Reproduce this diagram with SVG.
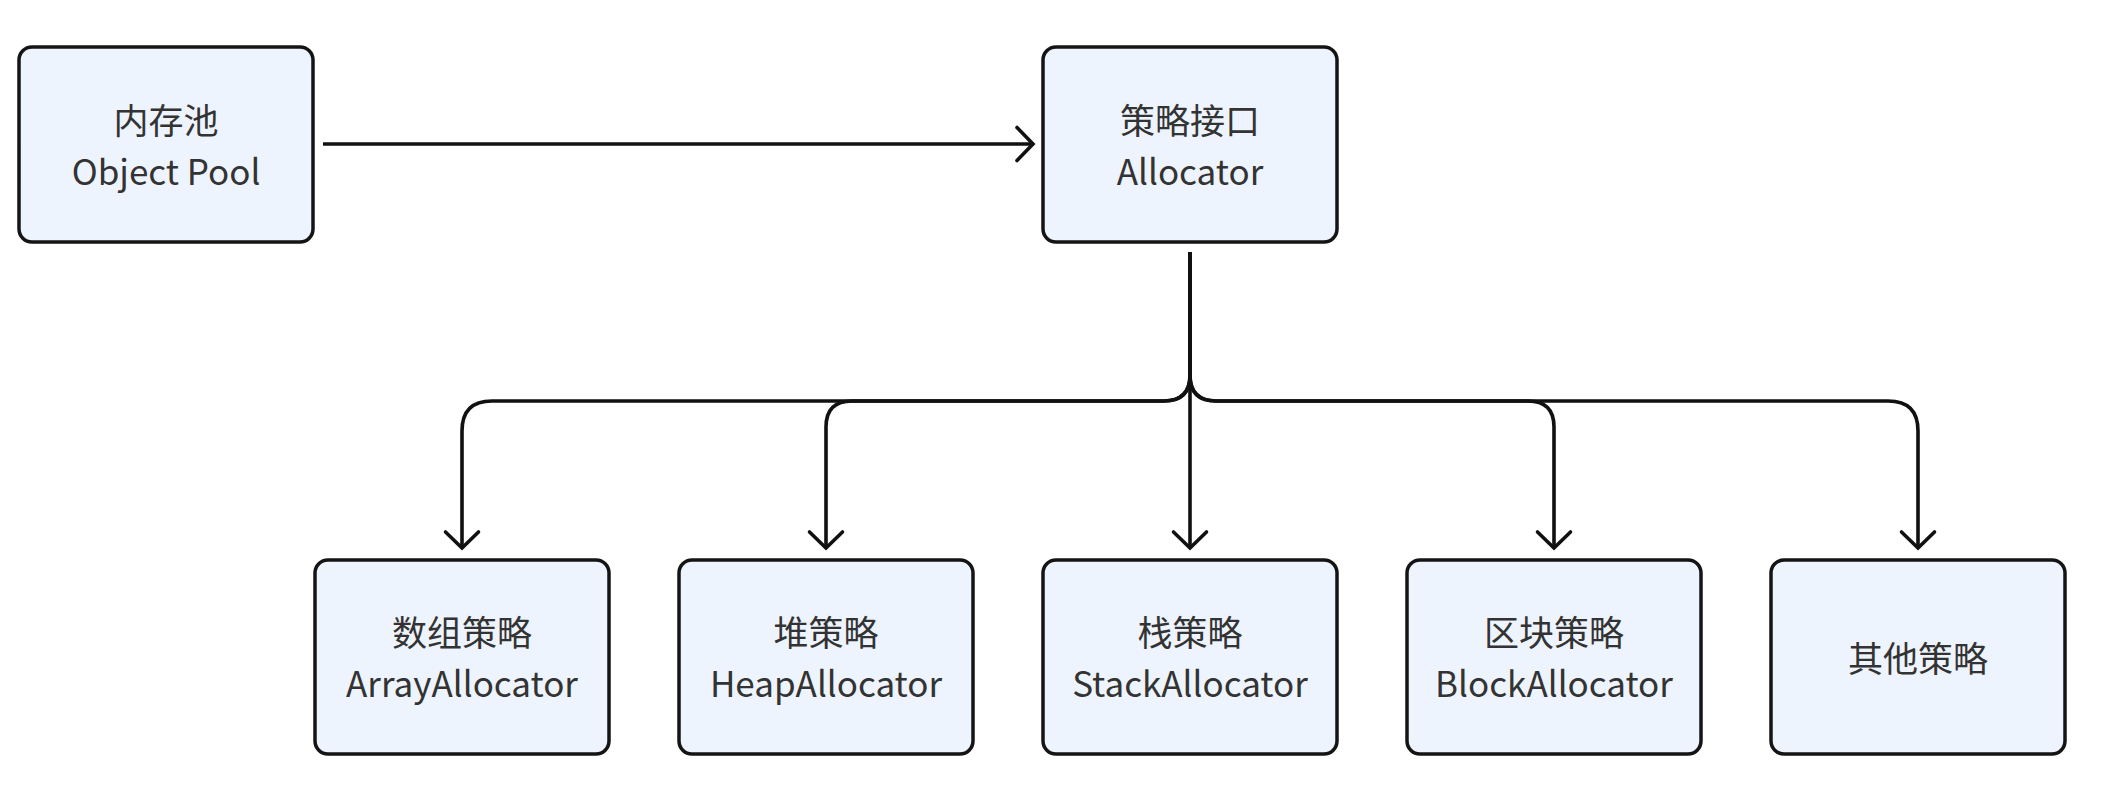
<svg xmlns="http://www.w3.org/2000/svg" width="2110" height="790" viewBox="0 0 2110 790">
<style>
.box{fill:#eef4fd;stroke:#141414;stroke-width:3.5}
.t{font-family:"Noto Sans CJK SC","Noto Sans",sans-serif;font-size:35px;fill:#333;text-anchor:middle}
.c{fill:none;stroke:#111;stroke-width:3.6}
</style>
<defs>
<marker id="arr" markerUnits="userSpaceOnUse" markerWidth="40" markerHeight="40" refX="0" refY="0" viewBox="-20 -20 40 40" orient="auto" overflow="visible">
<path d="M-16,-16.5 L0,0 L-16,16.5" fill="none" stroke="#111" stroke-width="3.6" stroke-linecap="round" stroke-linejoin="miter"/>
</marker>
</defs>
<rect width="2110" height="790" fill="#fff"/>
<g id="connectors">
<path class="c" d="M323,144 H1033" marker-end="url(#arr)"/>
<path class="c" d="M1190,252 V375 Q1190,401 1164,401 H492 Q462,401 462,431 V548" marker-end="url(#arr)"/>
<path class="c" d="M1190,252 V375 Q1190,401 1164,401 H852 Q826,401 826,427 V548" marker-end="url(#arr)"/>
<path class="c" d="M1190,252 V548" marker-end="url(#arr)"/>
<path class="c" d="M1190,252 V375 Q1190,401 1216,401 H1528 Q1554,401 1554,427 V548" marker-end="url(#arr)"/>
<path class="c" d="M1190,252 V375 Q1190,401 1216,401 H1888 Q1918,401 1918,431 V548" marker-end="url(#arr)"/>
</g>
<g id="pool">
<rect class="box" x="19" y="47" width="294" height="195" rx="13"/>
<text class="t" x="166" y="134">内存池</text>
<text class="t" x="166" y="185">Object Pool</text>
</g>
<g id="allocator">
<rect class="box" x="1043" y="47" width="294" height="195" rx="13"/>
<text class="t" x="1190" y="134">策略接口</text>
<text class="t" x="1190" y="185">Allocator</text>
</g>
<g id="array">
<rect class="box" x="315" y="560" width="294" height="194" rx="13"/>
<text class="t" x="462" y="646">数组策略</text>
<text class="t" x="462" y="697">ArrayAllocator</text>
</g>
<g id="heap">
<rect class="box" x="679" y="560" width="294" height="194" rx="13"/>
<text class="t" x="826" y="646">堆策略</text>
<text class="t" x="826" y="697">HeapAllocator</text>
</g>
<g id="stack">
<rect class="box" x="1043" y="560" width="294" height="194" rx="13"/>
<text class="t" x="1190" y="646">栈策略</text>
<text class="t" x="1190" y="697">StackAllocator</text>
</g>
<g id="block">
<rect class="box" x="1407" y="560" width="294" height="194" rx="13"/>
<text class="t" x="1554" y="646">区块策略</text>
<text class="t" x="1554" y="697">BlockAllocator</text>
</g>
<g id="other">
<rect class="box" x="1771" y="560" width="294" height="194" rx="13"/>
<text class="t" x="1918" y="672">其他策略</text>
</g>
</svg>
